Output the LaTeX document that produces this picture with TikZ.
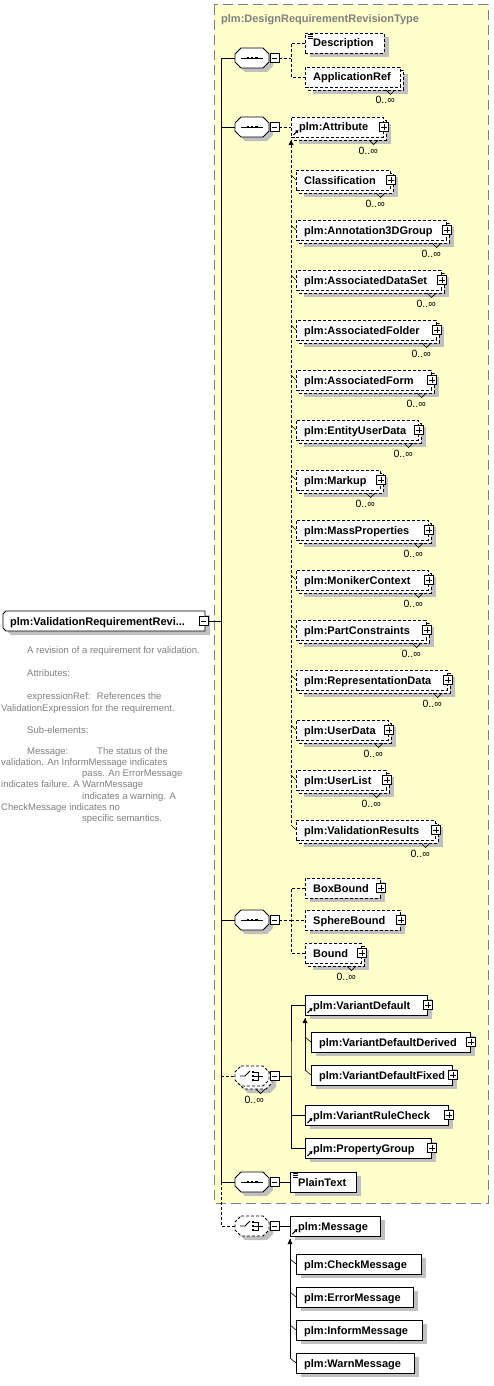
\documentclass[tikz,border=0pt]{standalone}
\usepackage{fontspec}
\setmainfont{Liberation Sans}
\usetikzlibrary{arrows.meta}
\definecolor{yel}{HTML}{FFFFCC}
\definecolor{shd}{HTML}{C0C0C0}
\definecolor{gry}{HTML}{808080}
\tikzset{
  lw/.style={line width=0.9pt},
  lbl/.style={font=\fontsize{11}{13}\selectfont\bfseries},
  ebox/.style={draw=black, fill=white, lw, minimum height=20pt, inner sep=0pt, anchor=west},
  opt/.style={dash pattern=on 3pt off 2pt},
  mult/.style={font=\fontsize{10.5}{12}\selectfont, inner sep=0pt, anchor=base east},
  doc/.style={font=\fontsize{9.5}{11}\selectfont, text=gry, inner sep=0pt, anchor=base west},
  pbox/.style={draw=black, fill=white, lw, minimum size=9pt, inner sep=0pt, path picture={
     \draw[line width=0.8pt] ([xshift=1.8pt]path picture bounding box.west) -- ([xshift=-1.8pt]path picture bounding box.east);
     \draw[line width=0.8pt] ([yshift=-1.8pt]path picture bounding box.north) -- ([yshift=1.8pt]path picture bounding box.south);}},
  mbox/.style={draw=black, fill=white, lw, minimum size=9pt, inner sep=0pt, path picture={
     \draw[line width=0.8pt] ([xshift=1.8pt]path picture bounding box.west) -- ([xshift=-1.8pt]path picture bounding box.east);}},
  con/.style={lw},
  dcon/.style={lw, dash pattern=on 3pt off 2pt},
  hook/.style={line width=0.6pt},
}
% octagon outline of a compositor
\newcommand\OctPath[3]{\path[#1] (#2+6,#3-10) -- (#2+28,#3-10) -- (#2+34,#3-4) -- (#2+34,#3+4) -- (#2+28,#3+10) -- (#2+6,#3+10) -- (#2,#3+4) -- (#2,#3-4) -- cycle;}
% sequence compositor: name, x, cy
\newcommand\SeqC[3]{%
  \OctPath{fill=shd}{#2+4}{#3+4}
  \OctPath{draw=black,fill=white,lw}{#2}{#3}
  \draw[lw] (#2+6,#3) -- (#2+28,#3);
  \fill (#2+11.5,#3-1.4) rectangle ++(2.8,2.8);
  \fill (#2+15.6,#3-1.4) rectangle ++(2.8,2.8);
  \fill (#2+19.7,#3-1.4) rectangle ++(2.8,2.8);
  \coordinate (#1) at (#2,#3);
  \node[mbox] (#1-m) at (#2+39.5,#3) {};
}
% choice symbol: x, cy
\newcommand\ChoiceSym[2]{%
  \draw[line width=0.8pt] (#1+5,#2) -- (#1+10,#2) -- (#1+15,#2-5);
  \fill (#1+16.5,#2-5.2) rectangle ++(2.6,2.6);
  \fill (#1+16.5,#2-1.3) rectangle ++(2.6,2.6);
  \fill (#1+16.5,#2+2.6) rectangle ++(2.6,2.6);
  \draw[line width=0.8pt] (#1+19,#2-4) -- (#1+23,#2-4) -- (#1+23,#2+4) -- (#1+19,#2+4);
  \draw[line width=0.8pt] (#1+19,#2) -- (#1+28,#2);
}
% single element: name, x1, x2, cy, style, text
\newcommand\Elem[6]{%
  \fill[shd] (#2+5,#4-6) rectangle (#3+5,#4+14);
  \node[ebox,#5,minimum width=#3-#2] (#1) at (#2,#4) {};
  \node[lbl,anchor=base west,inner sep=0pt] (#1-t) at (#2+8,#4+4) {#6};
}
% multiple element (0..inf): name, x1, x2, cy, style, text
\newcommand\MElem[6]{%
  \fill[shd] (#2+8,#4-3) rectangle (#3+8,#4+17);
  \draw[lw,fill=white,#5] (#2+3,#4-7) rectangle (#3+3,#4+13);
  \node[ebox,#5,minimum width=#3-#2] (#1) at (#2,#4) {};
  \node[lbl,anchor=base west,inner sep=0pt] (#1-t) at (#2+8,#4+4) {#6};
  \draw[line width=0.7pt] (#3-14,#4+13) -- (#3-9.5,#4+17.5) -- (#3-5,#4+13);
  \node[mult] (#1-n) at (#3-5,#4+27) {0..∞};
}
\newcommand\PlusB[1]{\node[pbox] (#1-p) at (#1.east) {};}
\newcommand\RefIc[1]{\draw[line width=1.1pt,-{Triangle[length=3pt,width=3.5pt]}] ([shift={(2.5pt,2.5pt)}]#1.south west) -- ++(5pt,5pt);}
\newcommand\DocIc[1]{%
  \draw[line width=0.6pt] ([shift={(3pt,-2pt)}]#1.north west) -- ++(5pt,0pt);
  \draw[line width=0.6pt] ([shift={(3pt,-4pt)}]#1.north west) -- ++(5pt,0pt);
  \draw[line width=0.6pt] ([shift={(3pt,-6pt)}]#1.north west) -- ++(5pt,0pt);}
\newcommand\Hook[1]{\draw[hook] (#1.west) ++(-5,-5) -- (#1.west);}
\newcommand\HookW[1]{\draw[hook] (#1.west) ++(-6,-5) -- (#1.west);}

\begin{document}
\begin{tikzpicture}[x=1pt,y=-1pt]
\useasboundingbox (0,0) rectangle (494,1386);
\fill[white] (0,0) rectangle (494,1386);
% complex type region
\draw[fill=yel, draw=gry, line width=1pt, dash pattern=on 10pt off 5pt] (214,5) rectangle (488,1203);
\node[lbl, text=gry, anchor=base west, inner sep=0pt] (title) at (221,23) {plm:DesignRequirementRevisionType};

% root element
\fill[shd] (11,615) -- (210,615) -- (210,635) -- (11,635) -- (8,632) -- (8,618) -- cycle;
\draw[lw, fill=white] (6,611) -- (205,611) -- (205,631) -- (6,631) -- (3,628) -- (3,614) -- cycle;
\node[lbl, anchor=base west, inner sep=0pt] (root) at (10,625) {plm:ValidationRequirementRevi...};
\node[mbox] (root-m) at (203.5,621) {};

% documentation
\node[doc] (d1) at (27,653.5) {A revision of a requirement for validation.};
\node[doc] (d2) at (27,676.5) {Attributes:};
\node[doc] (d3) at (27,699.5) {expressionRef:};
\node[doc] (d3b) at ([xshift=6pt]d3.base east) {References the};
\node[doc] (d4) at (1,711.5) {ValidationExpression for the requirement.};
\node[doc] (d5) at (27,733.5) {Sub-elements:};
\node[doc] (d6) at (27,754.5) {Message:};
\node[doc] (d6b) at (97,754.5) {The status of the};
\node[doc] (d7) at (1,765.5) {validation. An InformMessage indicates};
\node[doc] (d8) at (82,776.5) {pass. An ErrorMessage};
\node[doc] (d9) at (1,787.5) {indicates failure. A WarnMessage};
\node[doc] (d10) at (82,799.5) {indicates a warning. A};
\node[doc] (d11) at (1,810.5) {CheckMessage indicates no};
\node[doc] (d12) at (82,821.5) {specific semantics.};

% ---- sequence 1
\SeqC{s1}{235}{58}
\Elem{desc}{305}{384}{43}{opt}{Description}
\DocIc{desc}
\MElem{appref}{305}{400}{77}{opt}{ApplicationRef}
\coordinate (j1) at (291,58);
\draw[dcon] (s1-m.east) -- (j1);
\draw[dcon] (desc.west) -| (j1) |- (appref.west);

% ---- sequence 2
\SeqC{s2}{235}{127}
\MElem{attr}{291}{383}{127}{opt}{plm:Attribute}\PlusB{attr}\RefIc{attr}
\draw[dcon] (s2-m.east) -- (attr.west);
\MElem{cls}{296}{390}{180}{opt}{Classification}\PlusB{cls}
\MElem{annot}{296}{446}{230}{opt}{plm:Annotation3DGroup}\PlusB{annot}
\MElem{adset}{296}{441}{280}{opt}{plm:AssociatedDataSet}\PlusB{adset}
\MElem{afold}{296}{436}{330}{opt}{plm:AssociatedFolder}\PlusB{afold}
\MElem{aform}{296}{431}{380}{opt}{plm:AssociatedForm}\PlusB{aform}
\MElem{eud}{296}{418}{430}{opt}{plm:EntityUserData}\PlusB{eud}
\MElem{mark}{296}{380}{480}{opt}{plm:Markup}\PlusB{mark}
\MElem{mass}{296}{428}{530}{opt}{plm:MassProperties}\PlusB{mass}
\MElem{monk}{296}{428}{580}{opt}{plm:MonikerContext}\PlusB{monk}
\MElem{partc}{296}{426}{630}{opt}{plm:PartConstraints}\PlusB{partc}
\MElem{repd}{296}{447}{680}{opt}{plm:RepresentationData}\PlusB{repd}
\MElem{udata}{296}{388}{730}{opt}{plm:UserData}\PlusB{udata}
\MElem{ulist}{296}{386}{780}{opt}{plm:UserList}\PlusB{ulist}
\MElem{vres}{296}{435}{830}{opt}{plm:ValidationResults}\PlusB{vres}
\coordinate (g1t) at (291,140);
\coordinate (g1b) at (291,825);
\draw[dcon] (g1t) -- (g1b);
\fill (g1t) -- ++(-2.5,5) -- ++(5,0) -- cycle;
\foreach \n in {cls,annot,adset,afold,aform,eud,mark,mass,monk,partc,repd,udata,ulist,vres} {\Hook{\n}}

% ---- sequence 3
\SeqC{s3}{235}{920}
\Elem{boxb}{305}{380}{888}{opt}{BoxBound}\PlusB{boxb}
\Elem{sphb}{305}{400}{920}{opt}{SphereBound}\PlusB{sphb}
\MElem{bnd}{305}{361}{953}{opt}{Bound}\PlusB{bnd}
\coordinate (j3) at (291,920);
\draw[dcon] (s3-m.east) -- (j3);
\draw[dcon] (boxb.west) -| (j3) |- (bnd.west);
\draw[dcon] (j3) -- (sphb.west);

% ---- choice 1 (0..inf)
\OctPath{fill=shd}{235+7}{1076+7}
\OctPath{draw=black,fill=white,lw,opt}{235+3}{1076+3}
\OctPath{draw=black,fill=white,lw,opt}{235}{1076}
\draw[line width=0.7pt] (235+21,1076+13) -- (235+25.5,1076+17.5) -- (235+30,1076+13);
\ChoiceSym{235}{1076}
\coordinate (c1) at (235,1076);
\node[mbox] (c1-m) at (235+39.5,1076) {};
\node[mult] (c1-n) at (264,1103) {0..∞};
\Elem{vdef}{305}{427}{1005}{}{plm:VariantDefault}\PlusB{vdef}\RefIc{vdef}
\Elem{vdd}{311}{470}{1042}{}{plm:VariantDefaultDerived}\PlusB{vdd}
\Elem{vdf}{311}{452}{1075}{}{plm:VariantDefaultFixed}\PlusB{vdf}
\Elem{vrc}{305}{448}{1115}{}{plm:VariantRuleCheck}\PlusB{vrc}\RefIc{vrc}
\Elem{pgrp}{305}{431}{1148}{}{plm:PropertyGroup}\PlusB{pgrp}\RefIc{pgrp}
\coordinate (j5) at (291,1076);
\draw[con] (c1-m.east) -- (j5);
\draw[con] (vdef.west) -| (j5) |- (pgrp.west);
\draw[con] (j5) |- (vrc.west);
\coordinate (g2t) at (305,1018);
\coordinate (g2b) at (305,1070);
\draw[con] (g2t) -- (g2b);
\fill (g2t) -- ++(-2.5,5) -- ++(5,0) -- cycle;
\HookW{vdd}
\HookW{vdf}

% ---- sequence 4
\SeqC{s4}{235}{1182}
\Elem{plain}{290}{356}{1182}{}{PlainText}
\DocIc{plain}
\draw[con] (s4-m.east) -- (plain.west);

% ---- choice 2 (Message)
\OctPath{fill=shd}{235+4}{1226+4}
\OctPath{draw=black,fill=white,lw,opt}{235}{1226}
\ChoiceSym{235}{1226}
\coordinate (c2) at (235,1226);
\node[mbox] (c2-m) at (235+39.5,1226) {};
\Elem{msg}{290}{380}{1226}{}{plm:Message}\RefIc{msg}
\draw[con] (c2-m.east) -- (msg.west);
\Elem{chk}{296}{421}{1264}{}{plm:CheckMessage}
\Elem{err}{296}{413}{1297}{}{plm:ErrorMessage}
\Elem{inf}{296}{422}{1330}{}{plm:InformMessage}
\Elem{warn}{296}{414}{1363}{}{plm:WarnMessage}
\coordinate (g3t) at (290,1239);
\coordinate (g3b) at (290,1358);
\draw[con] (g3t) -- (g3b);
\fill (g3t) -- ++(-2.5,5) -- ++(5,0) -- cycle;
\foreach \n in {chk,err,inf,warn} {\HookW{\n}}

% ---- spine
\coordinate (sp1) at (221,58);
\coordinate (sp4) at (221,1182);
\draw[con] (sp1) -- (sp4);
\draw[con] (sp1) -- (s1);
\draw[con] (s2 -| sp1) -- (s2);
\draw[con] (s3 -| sp1) -- (s3);
\draw[con] (sp4) -- (s4);
\draw[dcon] (c1 -| sp1) -- (c1);
\draw[dcon] (sp4) |- (c2);
\draw[con] (root-m.east) -- (root-m.east -| sp1);
\end{tikzpicture}
\end{document}
